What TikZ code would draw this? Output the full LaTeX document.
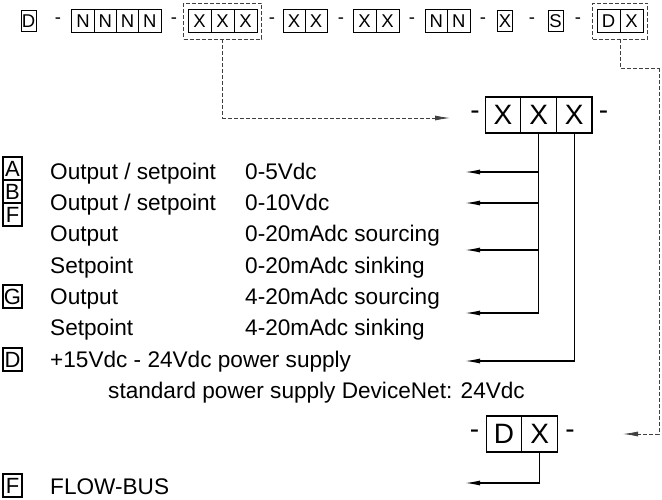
\documentclass[tikz,border=0pt]{standalone}
\usepackage{fontspec}
\setmainfont{Liberation Sans}
\usetikzlibrary{arrows.meta,fit}
\begin{document}
\begin{tikzpicture}[x=1pt,y=-1pt,
  topcell/.style={draw, line width=1pt, inner sep=0pt, minimum width=22.5pt, minimum height=23pt, font=\fontsize{18.5}{18.5}\selectfont},
  topsingle/.style={topcell, minimum width=15pt, minimum height=21pt},
  topsep/.style={inner sep=0pt, font=\fontsize{18.5}{18.5}\selectfont},
  bigcell/.style={draw, line width=1.2pt, inner sep=0pt, minimum width=35.6pt, minimum height=36pt, font=\fontsize{28}{28}\selectfont},
  bigsep/.style={inner sep=0pt, font=\fontsize{28}{28}\selectfont},
  lbl/.style={anchor=base west, inner sep=0pt, font=\fontsize{22.6}{22.6}\selectfont},
  keybox/.style={draw, line width=1.1pt, inner sep=0pt, minimum width=19pt, minimum height=23pt, font=\fontsize{22}{22}\selectfont},
  wire/.style={line width=1.3pt, -{Latex[length=15pt,width=5pt]}},
  sel/.style={draw=black!75, line width=0.8pt, dash pattern=on 4pt off 2pt},
  selarrow/.style={sel, -{Latex[length=15pt,width=5pt]}}
]
\useasboundingbox (0,0) rectangle (662,500);

% ---- top row code ----
\node[topsingle] (tD) at (28.5,21) {D};
\node[topsep] (s1) at (58,21) {-};
\node[topcell] (n1) at (83.1,21) {N};
\node[topcell] (n2) at (105.4,21) {N};
\node[topcell] (n3) at (127.6,21) {N};
\node[topcell] (n4) at (149.9,21) {N};
\node[topsep] (s2) at (174,21) {-};
\node[topcell, minimum width=23pt] (x1) at (199.5,21) {X};
\node[topcell, minimum width=23pt] (x2) at (222.5,21) {X};
\node[topcell, minimum width=23pt] (x3) at (245.5,21) {X};
\node[sel, fit=(x1)(x3), inner xsep=4pt, inner ysep=6pt] (xsel) {};
\node[topsep] (s3) at (272,21) {-};
\node[topcell, minimum width=22pt] (y1) at (294,21) {X};
\node[topcell, minimum width=22pt] (y2) at (316,21) {X};
\node[topsep] (s4) at (341,21) {-};
\node[topcell, minimum width=23pt] (z1) at (364.5,21) {X};
\node[topcell, minimum width=23pt] (z2) at (387.5,21) {X};
\node[topsep] (s5) at (412,21) {-};
\node[topcell] (p1) at (436.25,21) {N};
\node[topcell] (p2) at (458.75,21) {N};
\node[topsep] (s6) at (483,21) {-};
\node[topsingle] (tX) at (505,21) {X};
\node[topsep] (s7) at (532,21) {-};
\node[topsingle] (tS) at (555.5,21) {S};
\node[topsep] (s8) at (578,21) {-};
\node[topcell, minimum width=23pt] (d1) at (608.5,21) {D};
\node[topcell, minimum width=23pt] (d2) at (631.5,21) {X};
\node[sel, fit=(d1)(d2), inner xsep=4pt, inner ysep=6pt] (dsel) {};

% ---- selection connectors ----
\coordinate (t1) at (450,118);
\draw[selarrow] (xsel.south) |- (t1);
\coordinate (r1) at (659,68);
\coordinate (t2) at (623,434);
\draw[sel] (dsel.south) |- (r1);
\draw[selarrow] (r1) |- (t2);

% ---- middle block ----
\node[bigsep] (ml) at (475,115) {-};
\node[bigcell] (m1) at (503,115) {X};
\node[bigcell] (m2) at (538.6,115) {X};
\node[bigcell] (m3) at (574.2,115) {X};
\node[bigsep] (mr) at (603.5,115) {-};

\coordinate (a1) at (465,172);
\coordinate (a2) at (465,203);
\coordinate (a3) at (465,250);
\coordinate (a4) at (465,313);
\coordinate (a5) at (465,361);
\draw[wire] (m2.south) |- (a1);
\draw[wire] (m2.south) |- (a2);
\draw[wire] (m2.south) |- (a3);
\draw[wire] (m2.south) |- (a4);
\draw[wire] (m3.south) |- (a5);

% ---- bottom block ----
\node[bigsep] (bl) at (474.5,434) {-};
\node[bigcell] (b1) at (504,434) {D};
\node[bigcell] (b2) at (539.6,434) {X};
\node[bigsep] (br) at (570,434) {-};
\coordinate (a6) at (465,483);
\draw[wire] (b2.south) |- (a6);

% ---- key ----
\node[keybox] (kA) at (12.5,168.5) {A};
\node[keybox] (kB) at (12.5,191.5) {B};
\node[keybox] (kF) at (12.5,214.5) {F};
\node[keybox] (kG) at (12.5,296.5) {G};
\node[keybox] (kD) at (12.5,359.5) {D};
\node[keybox] (kF2) at (12.5,485.5) {F};

\node[lbl] (l1a) at (50,180) {Output / setpoint};
\node[lbl] (l1b) at (245,180) {0-5Vdc};
\node[lbl] (l2a) at (50,211) {Output / setpoint};
\node[lbl] (l2b) at (245,211) {0-10Vdc};
\node[lbl] (l3a) at (50,242) {Output};
\node[lbl] (l3b) at (245,242) {0-20mAdc sourcing};
\node[lbl] (l4a) at (50,273) {Setpoint};
\node[lbl] (l4b) at (245,273) {0-20mAdc sinking};
\node[lbl] (l5a) at (50,304) {Output};
\node[lbl] (l5b) at (245,304) {4-20mAdc sourcing};
\node[lbl] (l6a) at (50,335) {Setpoint};
\node[lbl] (l6b) at (245,335) {4-20mAdc sinking};
\node[lbl] (l7) at (50,367) {+15Vdc - 24Vdc power supply};
\node[lbl] (l8) at (108,398) {standard power supply DeviceNet: 24Vdc};
\node[lbl] (l9) at (50,494) {FLOW-BUS};
\end{tikzpicture}
\end{document}
